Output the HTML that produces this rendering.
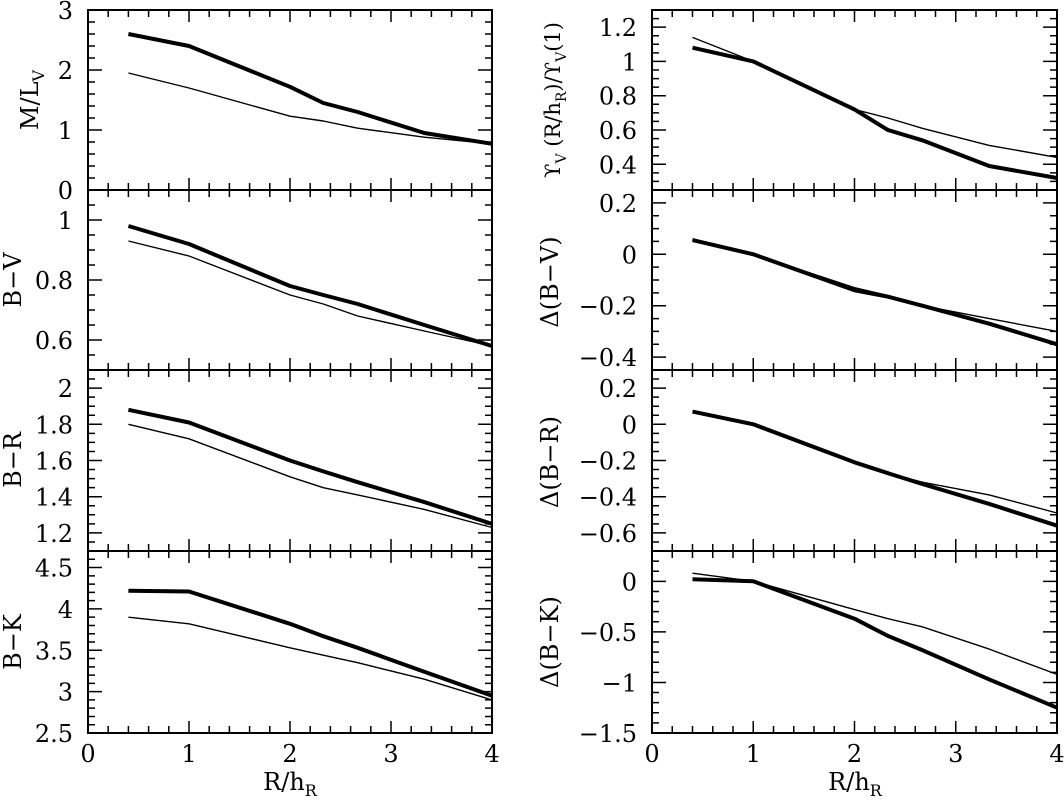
<!DOCTYPE html>
<html><head><meta charset="utf-8"><style>
html,body{margin:0;padding:0;background:#fff;}
svg{display:block;}
text{font-family:"DejaVu Serif","Liberation Serif",serif;fill:#000;}
</style></head><body>
<svg id="fig" width="1064" height="801" viewBox="0 0 1064 801" xmlns="http://www.w3.org/2000/svg"></svg>
<script>
const xVals = [0.4, 1, 2, 2.33, 2.67, 3.33, 4];
const xTicks = [0, 1, 2, 3, 4];
// left column
const mlThick = [2.6, 2.4, 1.72, 1.45, 1.3, 0.95, 0.77];
const mlThin  = [1.95, 1.7, 1.23, 1.15, 1.03, 0.88, 0.77];
const bvThick = [0.98, 0.92, 0.78, 0.75, 0.72, 0.65, 0.58];
const bvThin  = [0.93, 0.88, 0.75, 0.72, 0.68, 0.63, 0.58];
const brThick = [1.88, 1.81, 1.60, 1.54, 1.48, 1.37, 1.25];
const brThin  = [1.80, 1.72, 1.51, 1.45, 1.41, 1.33, 1.23];
const bkThick = [4.22, 4.21, 3.82, 3.67, 3.53, 3.24, 2.95];
const bkThin  = [3.90, 3.82, 3.53, 3.44, 3.35, 3.15, 2.90];
// right column
const gThick  = [1.08, 1.0, 0.72, 0.60, 0.54, 0.39, 0.32];
const gThin   = [1.14, 1.0, 0.72, 0.67, 0.61, 0.51, 0.44];
const dbvThick = [0.055, 0, -0.14, -0.165, -0.2, -0.27, -0.35];
const dbvThin  = [0.06, 0, -0.13, -0.16, -0.2, -0.25, -0.30];
const dbrThick = [0.07, 0, -0.21, -0.27, -0.33, -0.44, -0.56];
const dbrThin  = [0.07, 0, -0.21, -0.27, -0.32, -0.39, -0.49];
const dbkThick = [0.02, 0, -0.37, -0.54, -0.68, -0.97, -1.25];
const dbkThin  = [0.08, 0, -0.28, -0.37, -0.45, -0.67, -0.92];
const ticksML = [0, 1, 2, 3];
const ticksBV = [0.6, 0.8, 1];
const ticksBR = [1.2, 1.4, 1.6, 1.8, 2];
const ticksBK = [2.5, 3, 3.5, 4, 4.5];
const ticksG = [0.4, 0.6, 0.8, 1, 1.2];
const ticksDBV = [-0.4, -0.2, 0, 0.2];
const ticksDBR = [-0.6, -0.4, -0.2, 0, 0.2];
const ticksDBK = [-1.5, -1, -0.5, 0];

const NS = "http://www.w3.org/2000/svg";
const svg = document.getElementById('fig');
function mk(tag, attrs, parent){ const e=document.createElementNS(NS,tag); for(const k in attrs) e.setAttribute(k,attrs[k]); (parent||svg).appendChild(e); return e; }
function fmt(v){ let s = (Math.round(v*100)/100).toString(); return s.replace('-', '\u2212'); }

const panels = [
 {name:'ml', x0:88, x1:492, y0:10, y1:190, lo:0, hi:3, major:1, minor:0.2, ticks:ticksML, thick:mlThick, thin:mlThin},
 {name:'bv', x0:88, x1:492, y0:190, y1:370, lo:0.5, hi:1.1, major:0.2, minor:0.05, ticks:ticksBV, thick:bvThick, thin:bvThin},
 {name:'br', x0:88, x1:492, y0:370, y1:551, lo:1.1, hi:2.1, major:0.2, minor:0.05, ticks:ticksBR, thick:brThick, thin:brThin},
 {name:'bk', x0:88, x1:492, y0:551, y1:733, lo:2.5, hi:4.7, major:0.5, minor:0.1, ticks:ticksBK, thick:bkThick, thin:bkThin, last:true},
 {name:'gamma', x0:652, x1:1057, y0:10, y1:190, lo:0.25, hi:1.3, major:0.2, minor:0.05, ticks:ticksG, thick:gThick, thin:gThin},
 {name:'dbv', x0:652, x1:1057, y0:190, y1:370, lo:-0.45, hi:0.25, major:0.2, minor:0.05, ticks:ticksDBV, thick:dbvThick, thin:dbvThin},
 {name:'dbr', x0:652, x1:1057, y0:370, y1:551, lo:-0.7, hi:0.3, major:0.2, minor:0.05, ticks:ticksDBR, thick:dbrThick, thin:dbrThin},
 {name:'dbk', x0:652, x1:1057, y0:551, y1:733, lo:-1.5, hi:0.3, major:0.5, minor:0.1, ticks:ticksDBK, thick:dbkThick, thin:dbkThin, last:true},
];

panels.forEach(p=>{
  const g = mk('g',{});
  
  
  const sx = v => p.x0 + (v/4)*(p.x1-p.x0);
  const sy = v => p.y1 - (v-p.lo)/(p.hi-p.lo)*(p.y1-p.y0);
  const frame = mk('rect',{x:p.x0,y:p.y0,width:p.x1-p.x0,height:p.y1-p.y0,fill:'none',stroke:'#000','stroke-width':2},g);
  
  
  let d='';
  for(let i=0;i<=20;i++){ const v=i*0.2; const X=sx(v); const L=(i%5===0)?12:7;
    d+=`M${X} ${p.y1}v${-L}M${X} ${p.y0}v${L}`; }
  const start = Math.ceil(p.lo/p.minor - 1e-6);
  for(let i=start;i*p.minor<=p.hi+1e-9;i++){ const v=i*p.minor; const Y=sy(v);
    const isMaj = Math.abs(v/p.major - Math.round(v/p.major))<1e-6; const L=isMaj?14:7;
    d+=`M${p.x0} ${Y}h${L}M${p.x1} ${Y}h${-L}`; }
  mk('path',{d:d,stroke:'#000','stroke-width':1.5,fill:'none'},g);
  p.ticks.forEach(t=>{ const tx=mk('text',{x:p.x0-15,y:sy(t)+9,'font-size':24,'text-anchor':'end'},g); tx.textContent=fmt(t);
      });
  if(p.last){ xTicks.forEach(t=>{ const tx=mk('text',{x:sx(t),y:p.y1+29,'font-size':24,'text-anchor':'middle'},g); tx.textContent=fmt(t);
      }); }
  const pts = arr => arr.map((v,i)=>sx(xVals[i]).toFixed(1)+','+sy(v).toFixed(1)).join(' ');
  const thin = mk('polyline',{points:pts(p.thin),fill:'none',stroke:'#000','stroke-width':1.4,'stroke-linejoin':'round'},g);
  
  
  const thick = mk('polyline',{points:pts(p.thick),fill:'none',stroke:'#000','stroke-width':4,'stroke-linejoin':'round'},g);
  
  
});
</script>
<svg style="position:absolute;left:0;top:0" width="1064" height="801">
 <g font-size="24" font-family="DejaVu Serif, Liberation Serif, serif">
  <text transform="translate(38,100) rotate(-90)" text-anchor="middle">M/L<tspan font-size="16" dy="6">V</tspan></text>
  <text transform="translate(21,280) rotate(-90)" text-anchor="middle">B−V</text>
  <text transform="translate(21,460) rotate(-90)" text-anchor="middle">B−R</text>
  <text transform="translate(21,642) rotate(-90)" text-anchor="middle">B−K</text>
  <text transform="translate(560,100) rotate(-90)" text-anchor="middle" font-size="21">ϒ<tspan font-size="14" dy="6">V</tspan><tspan dy="-6"> (R/h</tspan><tspan font-size="14" dy="6">R</tspan><tspan dy="-6">)/ϒ</tspan><tspan font-size="14" dy="6">V</tspan><tspan dy="-6">(1)</tspan></text>
  <text transform="translate(558,282) rotate(-90)" text-anchor="middle">Δ(B−V)</text>
  <text transform="translate(558,462) rotate(-90)" text-anchor="middle">Δ(B−R)</text>
  <text transform="translate(558,642) rotate(-90)" text-anchor="middle">Δ(B−K)</text>
  <text x="290" y="790" text-anchor="middle">R/h<tspan font-size="16" dy="6">R</tspan></text>
  <text x="855" y="790" text-anchor="middle">R/h<tspan font-size="16" dy="6">R</tspan></text>
 </g>
</svg>
</body></html>
